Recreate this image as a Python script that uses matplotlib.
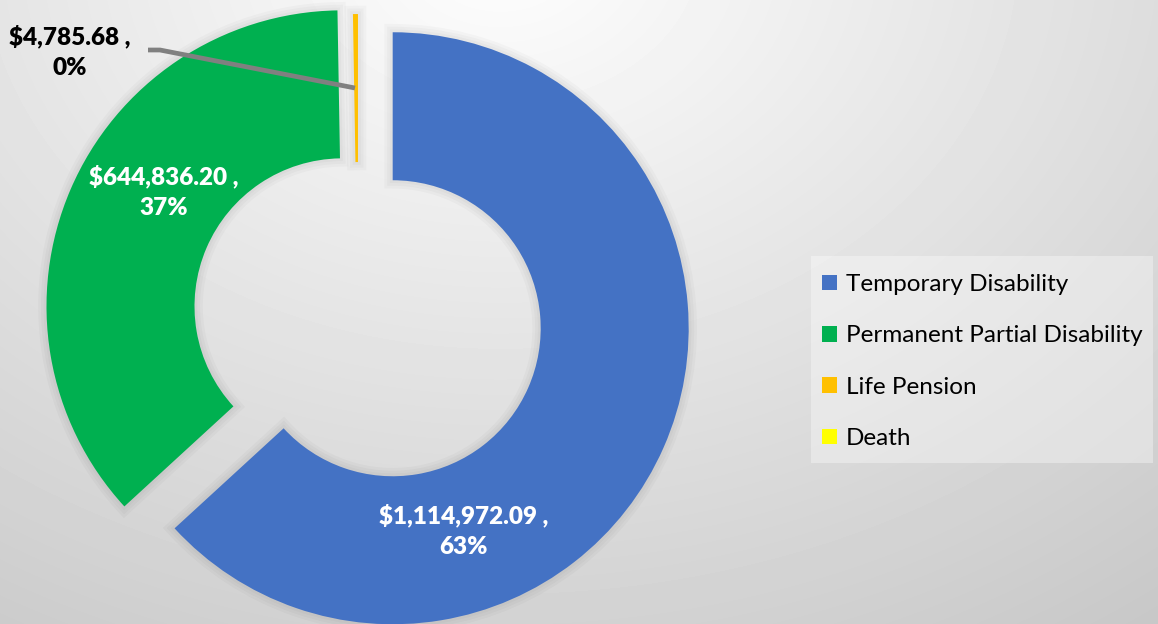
import numpy as np
import matplotlib.pyplot as plt
from matplotlib.patches import Patch, Rectangle

# ---------------------------------------------------
# Datos
# ---------------------------------------------------
categorias = ["Temporary Disability", "Permanent Partial Disability", "Life Pension", "Death"]
montos = [1114972.09, 644836.20, 4785.68, 0.0]
porcentajes = ["63%", "37%", "0%", "0%"]
colores = ["#4472C4", "#00B050", "#FFC000", "#FFFF00"]
separacion = [0.128, 0.057, 0.01, 0.0]

W, H = 1158, 624
R_PX = 296          # radio exterior en pixeles
CX, CY = 358, 313   # centro del anillo en pixeles


def px(x, y):
    """pixeles de la imagen -> coordenadas de datos"""
    return (x - CX) / R_PX, (CY - y) / R_PX


fig = plt.figure(figsize=(W / 100, H / 100), dpi=100)

# fondo con degradado radial
fondo = fig.add_axes([0, 0, 1, 1])
yy, xx = np.mgrid[0:H, 0:W]
dist = np.hypot(xx - 500, (yy + 50) * 1.3)
tono = np.clip(254 - 0.05 * dist, 0, 255) / 255
fondo.imshow(tono, cmap="gray", vmin=0, vmax=1, aspect="auto", interpolation="bilinear")
fondo.axis("off")

ax = fig.add_axes([0, 0, 1, 1])
ax.patch.set_visible(False)

# sombra suave alrededor de los sectores
for ancho in (12, 8, 4):
    sombra, _ = ax.pie(montos, colors=["none"] * len(montos), explode=separacion,
                       startangle=90, counterclock=False, radius=1,
                       wedgeprops=dict(width=0.5, linewidth=ancho,
                                       edgecolor=(0, 0, 0, 0.025)))
    for cuna, v in zip(sombra, montos):
        if v == 0:
            cuna.set_visible(False)

ax.pie(montos, colors=colores, explode=separacion, startangle=90, counterclock=False,
       radius=1, wedgeprops=dict(width=0.5, linewidth=0))

x0, y0 = px(0, H)
x1, y1 = px(W, 0)
ax.set_xlim(x0, x1)
ax.set_ylim(y0, y1)
ax.axis("off")

fuente = "Lato"

# etiquetas de datos
def etiqueta(i, x, y, color):
    tx, ty = px(x, y)
    ax.text(tx, ty, f"${montos[i]:,.2f} ,\n{porcentajes[i]}", ha="center", va="center",
            color=color, fontsize=17.5, fontweight="heavy", family=fuente, linespacing=1.5)

etiqueta(0, 464, 531, "white")
etiqueta(1, 164, 192, "white")
etiqueta(2, 70, 52, "black")

# linea guia de Life Pension
guia = [px(148, 50), px(160, 50), px(355, 88)]
ax.plot([p[0] for p in guia], [p[1] for p in guia], color="#808080", lw=3.4,
        solid_capstyle="butt", solid_joinstyle="miter")

# caja de la leyenda
ax.add_patch(Rectangle((811 / W, 1 - 463 / H), (1153 - 811) / W, (463 - 256) / H,
                       transform=fig.transFigure, facecolor="white", alpha=0.35,
                       edgecolor="none", zorder=4))

# leyenda
manijas = [Patch(facecolor=c, edgecolor="none") for c in colores]
ax.legend(manijas, categorias, loc="upper left",
          bbox_to_anchor=(822 / W, 1 - 274 / H), bbox_transform=fig.transFigure,
          prop={"family": fuente, "size": 17.5}, frameon=False,
          handlelength=0.62, handleheight=0.62, handletextpad=0.35,
          labelspacing=1.25, borderpad=0, borderaxespad=0)

fig.savefig("out.png", dpi=100)
